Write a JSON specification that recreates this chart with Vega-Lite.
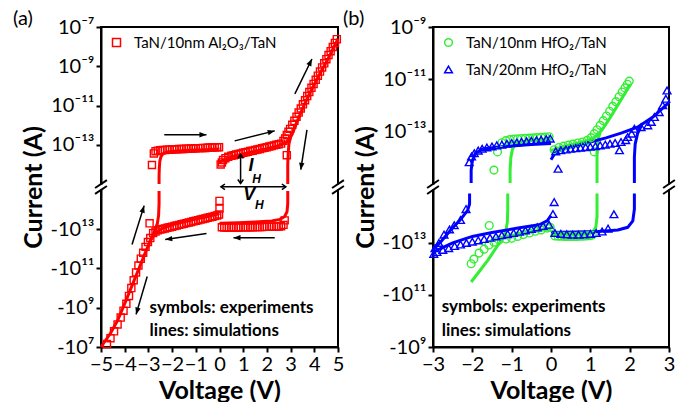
{
  "$schema": "https://vega.github.io/schema/vega-lite/v6.json",
  "background": "white",
  "padding": {"left": 12, "top": 8, "right": 2, "bottom": 2},
  "config": {
    "font": "Lato",
    "view": {"stroke": "black", "strokeWidth": 2},
    "axis": {"domainColor": "black", "domainWidth": 2, "tickColor": "black", "tickWidth": 2, "tickSize": 5, "labelFont": "Lato", "labelFontSize": 20, "labelColor": "black", "labelPadding": 2, "labelOverlap": false, "labelFlush": false, "labelBound": false, "titleFont": "Lato", "titleFontSize": 25, "titleFontWeight": "bold", "titleColor": "black", "grid": false},
    "axisY": {"titlePadding": 4},
    "axisX": {"titlePadding": 4},
    "legend": {"orient": "top-left", "offset": 8, "padding": 0, "labelFont": "Lato", "labelFontSize": 15, "labelColor": "black", "symbolStrokeWidth": 1.5, "symbolSize": 64, "rowPadding": 11, "labelOffset": 10},
    "title": {"font": "Lato", "fontSize": 20, "fontWeight": "normal", "color": "black", "anchor": "start", "frame": "group"}
  },
  "datasets": {
    "asim": [
      {"seg": "A1", "x": -2.55, "y": -2.0}, {"seg": "A1", "x": -2.55, "y": -1.6}, {"seg": "A1", "x": -2.54, "y": -1.2}, {"seg": "A1", "x": -2.52, "y": -0.85}, {"seg": "A1", "x": -2.47, "y": -0.6}, {"seg": "A1", "x": -2.38, "y": -0.45}, {"seg": "A1", "x": -2.2, "y": -0.37}, {"seg": "A1", "x": -1.8, "y": -0.32}, {"seg": "A1", "x": -1.2, "y": -0.28}, {"seg": "A1", "x": -0.6, "y": -0.25}, {"seg": "A1", "x": 0, "y": -0.22},
      {"seg": "A2", "x": 0, "y": -0.9}, {"seg": "A2", "x": 0.2, "y": -0.75}, {"seg": "A2", "x": 0.6, "y": -0.58}, {"seg": "A2", "x": 1.0, "y": -0.47}, {"seg": "A2", "x": 1.5, "y": -0.33}, {"seg": "A2", "x": 2.0, "y": -0.2}, {"seg": "A2", "x": 2.4, "y": -0.08}, {"seg": "A2", "x": 2.7, "y": 0.05}, {"seg": "A2", "x": 2.9, "y": 0.2}, {"seg": "A2", "x": 3.05, "y": 0.5}, {"seg": "A2", "x": 3.2, "y": 0.95}, {"seg": "A2", "x": 3.4, "y": 1.55}, {"seg": "A2", "x": 3.6, "y": 2.1}, {"seg": "A2", "x": 3.9, "y": 2.85}, {"seg": "A2", "x": 4.2, "y": 3.55}, {"seg": "A2", "x": 4.5, "y": 4.2}, {"seg": "A2", "x": 4.75, "y": 4.8}, {"seg": "A2", "x": 5.0, "y": 5.4},
      {"seg": "A3", "x": 3.0, "y": 0.38}, {"seg": "A3", "x": 2.93, "y": 0.05}, {"seg": "A3", "x": 2.9, "y": -0.4}, {"seg": "A3", "x": 2.88, "y": -1.0}, {"seg": "A3", "x": 2.88, "y": -2.0},
      {"seg": "A4", "x": 2.88, "y": -2.35}, {"seg": "A4", "x": 2.88, "y": -3.0}, {"seg": "A4", "x": 2.85, "y": -3.4}, {"seg": "A4", "x": 2.75, "y": -3.65}, {"seg": "A4", "x": 2.55, "y": -3.8}, {"seg": "A4", "x": 2.2, "y": -3.88}, {"seg": "A4", "x": 1.5, "y": -3.93}, {"seg": "A4", "x": 0.8, "y": -3.97}, {"seg": "A4", "x": 0, "y": -4.0},
      {"seg": "A5", "x": 0, "y": -3.5}, {"seg": "A5", "x": -0.5, "y": -3.65}, {"seg": "A5", "x": -1.0, "y": -3.78}, {"seg": "A5", "x": -1.5, "y": -3.92}, {"seg": "A5", "x": -2.0, "y": -4.08}, {"seg": "A5", "x": -2.4, "y": -4.25}, {"seg": "A5", "x": -2.7, "y": -4.5}, {"seg": "A5", "x": -2.9, "y": -4.85}, {"seg": "A5", "x": -3.1, "y": -5.4}, {"seg": "A5", "x": -3.4, "y": -6.3}, {"seg": "A5", "x": -3.7, "y": -7.2}, {"seg": "A5", "x": -4.0, "y": -8.1}, {"seg": "A5", "x": -4.3, "y": -8.95}, {"seg": "A5", "x": -4.6, "y": -9.6}, {"seg": "A5", "x": -5.0, "y": -10.3},
      {"seg": "A6", "x": -2.55, "y": -2.35}, {"seg": "A6", "x": -2.55, "y": -3.0}, {"seg": "A6", "x": -2.57, "y": -3.6}, {"seg": "A6", "x": -2.62, "y": -4.0}, {"seg": "A6", "x": -2.72, "y": -4.35}, {"seg": "A6", "x": -2.85, "y": -4.7}, {"seg": "A6", "x": -2.95, "y": -4.95}
    ],
    "aexp": [
      {"x": -4.75, "y": -10.15}, {"x": -4.6, "y": -9.85}, {"x": -4.45, "y": -9.5}, {"x": -4.3, "y": -9.15}, {"x": -4.17, "y": -8.8}, {"x": -4.05, "y": -8.45}, {"x": -3.93, "y": -8.1}, {"x": -3.82, "y": -7.7}, {"x": -3.72, "y": -7.3}, {"x": -3.62, "y": -6.9}, {"x": -3.52, "y": -6.5}, {"x": -3.42, "y": -6.15}, {"x": -3.32, "y": -5.8}, {"x": -3.22, "y": -5.5}, {"x": -3.12, "y": -5.2}, {"x": -3.02, "y": -4.95}, {"x": -2.92, "y": -4.75},
      {"x": -2.95, "y": -4.0},
      {"x": -2.8, "y": -4.5}, {"x": -2.7, "y": -4.42}, {"x": -2.6, "y": -4.35}, {"x": -2.5, "y": -4.32}, {"x": -2.4, "y": -4.29}, {"x": -2.3, "y": -4.26}, {"x": -2.2, "y": -4.23}, {"x": -2.1, "y": -4.2}, {"x": -2.0, "y": -4.17}, {"x": -1.9, "y": -4.14}, {"x": -1.8, "y": -4.11}, {"x": -1.7, "y": -4.08}, {"x": -1.6, "y": -4.05}, {"x": -1.5, "y": -4.02}, {"x": -1.4, "y": -3.99}, {"x": -1.3, "y": -3.96}, {"x": -1.2, "y": -3.93}, {"x": -1.1, "y": -3.9}, {"x": -1.0, "y": -3.87}, {"x": -0.9, "y": -3.84}, {"x": -0.8, "y": -3.81}, {"x": -0.7, "y": -3.78}, {"x": -0.6, "y": -3.75}, {"x": -0.5, "y": -3.72}, {"x": -0.4, "y": -3.69}, {"x": -0.3, "y": -3.66}, {"x": -0.2, "y": -3.63}, {"x": -0.1, "y": -3.6}, {"x": -0.02, "y": -3.55},
      {"x": -2.85, "y": -1.03}, {"x": -2.77, "y": -0.44}, {"x": -2.7, "y": -0.33}, {"x": -2.6, "y": -0.3}, {"x": -2.5, "y": -0.28}, {"x": -2.4, "y": -0.27}, {"x": -2.3, "y": -0.26}, {"x": -2.2, "y": -0.25}, {"x": -2.1, "y": -0.25}, {"x": -2.0, "y": -0.24}, {"x": -1.9, "y": -0.23}, {"x": -1.8, "y": -0.23}, {"x": -1.7, "y": -0.22}, {"x": -1.6, "y": -0.22}, {"x": -1.5, "y": -0.21}, {"x": -1.4, "y": -0.2}, {"x": -1.3, "y": -0.2}, {"x": -1.2, "y": -0.19}, {"x": -1.1, "y": -0.19}, {"x": -1.0, "y": -0.18}, {"x": -0.9, "y": -0.17}, {"x": -0.8, "y": -0.17}, {"x": -0.7, "y": -0.16}, {"x": -0.6, "y": -0.16}, {"x": -0.5, "y": -0.15}, {"x": -0.4, "y": -0.14}, {"x": -0.3, "y": -0.14}, {"x": -0.2, "y": -0.13}, {"x": -0.1, "y": -0.13}, {"x": -0.02, "y": -0.12},
      {"x": 0.05, "y": -1.0}, {"x": 0.1, "y": -0.9}, {"x": 0.15, "y": -0.78}, {"x": 0.25, "y": -0.68}, {"x": 0.37, "y": -0.61}, {"x": 0.5, "y": -0.56}, {"x": 0.6, "y": -0.53}, {"x": 0.7, "y": -0.5}, {"x": 0.8, "y": -0.47}, {"x": 0.9, "y": -0.44}, {"x": 1.0, "y": -0.41}, {"x": 1.1, "y": -0.38}, {"x": 1.2, "y": -0.35}, {"x": 1.3, "y": -0.32}, {"x": 1.4, "y": -0.3}, {"x": 1.5, "y": -0.27}, {"x": 1.6, "y": -0.24}, {"x": 1.7, "y": -0.21}, {"x": 1.8, "y": -0.18}, {"x": 1.9, "y": -0.15}, {"x": 2.0, "y": -0.12}, {"x": 2.1, "y": -0.09}, {"x": 2.2, "y": -0.06}, {"x": 2.3, "y": -0.03}, {"x": 2.4, "y": 0.0}, {"x": 2.5, "y": 0.03}, {"x": 2.6, "y": 0.06}, {"x": 2.7, "y": 0.2}, {"x": 2.77, "y": 0.32}, {"x": 2.84, "y": 0.5}, {"x": 2.91, "y": 0.66}, {"x": 2.98, "y": 0.81}, {"x": 3.07, "y": 1.02}, {"x": 3.16, "y": 1.22}, {"x": 3.25, "y": 1.43}, {"x": 3.34, "y": 1.64}, {"x": 3.43, "y": 1.85}, {"x": 3.52, "y": 2.06}, {"x": 3.61, "y": 2.27}, {"x": 3.7, "y": 2.48}, {"x": 3.79, "y": 2.69}, {"x": 3.88, "y": 2.9}, {"x": 3.97, "y": 3.1}, {"x": 4.06, "y": 3.31}, {"x": 4.15, "y": 3.52}, {"x": 4.24, "y": 3.73}, {"x": 4.33, "y": 3.94}, {"x": 4.42, "y": 4.15}, {"x": 4.51, "y": 4.36}, {"x": 4.6, "y": 4.57}, {"x": 4.69, "y": 4.77}, {"x": 4.78, "y": 4.98}, {"x": 4.87, "y": 5.19}, {"x": 4.95, "y": 5.38},
      {"x": 2.84, "y": -0.53},
      {"x": 2.75, "y": -3.85}, {"x": 2.7, "y": -4.08}, {"x": 2.6, "y": -4.15}, {"x": 2.5, "y": -4.16}, {"x": 2.4, "y": -4.16}, {"x": 2.3, "y": -4.17}, {"x": 2.2, "y": -4.17}, {"x": 2.1, "y": -4.18}, {"x": 2.0, "y": -4.18}, {"x": 1.9, "y": -4.18}, {"x": 1.8, "y": -4.19}, {"x": 1.7, "y": -4.19}, {"x": 1.6, "y": -4.19}, {"x": 1.5, "y": -4.19}, {"x": 1.4, "y": -4.2}, {"x": 1.3, "y": -4.2}, {"x": 1.2, "y": -4.2}, {"x": 1.1, "y": -4.2}, {"x": 1.0, "y": -4.2}, {"x": 0.9, "y": -4.2}, {"x": 0.8, "y": -4.21}, {"x": 0.7, "y": -4.21}, {"x": 0.6, "y": -4.21}, {"x": 0.5, "y": -4.21}, {"x": 0.4, "y": -4.21}, {"x": 0.3, "y": -4.21}, {"x": 0.2, "y": -4.21}, {"x": 0.1, "y": -4.2},
      {"x": 0.0, "y": -2.86}, {"x": 0.0, "y": -3.25}
    ],
    "aarr": [
      {"x": -2.33, "y": 0.51, "x2": -0.55, "y2": 0.51},
      {"x": 0.64, "y": 0.2, "x2": 2.33, "y2": 0.71},
      {"x": 3.69, "y": 0.76, "x2": 3.43, "y2": -1.27},
      {"x": 3.18, "y": 2.59, "x2": 3.9, "y2": 4.37},
      {"x": 2.33, "y": -4.73, "x2": 0.59, "y2": -4.73},
      {"x": -0.55, "y": -4.52, "x2": -2.29, "y2": -4.83},
      {"x": -3.69, "y": -5.08, "x2": -3.18, "y2": -3.1},
      {"x": -3.05, "y": -6.71, "x2": -3.52, "y2": -8.64},
      {"x": 0.89, "y": -0.49, "x2": 0.89, "y2": -1.97},
      {"x": 0.06, "y": -2.14, "x2": 2.8, "y2": -2.14}
    ],
    "ahead": [
      {"x": -0.55, "y": 0.51, "a": 90}, {"x": 2.33, "y": 0.71, "a": 76}, {"x": 3.43, "y": -1.27, "a": 188}, {"x": 3.9, "y": 4.37, "a": 26},
      {"x": 0.59, "y": -4.73, "a": 270}, {"x": -2.29, "y": -4.83, "a": 262}, {"x": -3.18, "y": -3.1, "a": 17}, {"x": -3.52, "y": -8.64, "a": 196}
    ],
    "achev": [
      {"x": 0.89, "y": -0.49, "a": 0}, {"x": 0.89, "y": -1.97, "a": 180}, {"x": 0.06, "y": -2.14, "a": 270}, {"x": 2.8, "y": -2.14, "a": 90}
    ],
    "abig": [{"x": 1.33, "y": -1.1, "t": "I"}, {"x": 1.25, "y": -2.58, "t": "V"}],
    "asub": [{"x": 1.56, "y": -1.76, "t": "H"}, {"x": 1.68, "y": -3.08, "t": "H"}],
    "anote": [{"x": -2.95, "y": -8.58, "t": "symbols: experiments"}, {"x": -2.95, "y": -9.76, "t": "lines: simulations"}],
    "abrk": [
      {"x": -5.25, "y": -2.2, "x2": -4.75, "y2": -1.8}, {"x": -5.25, "y": -2.5, "x2": -4.75, "y2": -2.1},
      {"x": 4.75, "y": -2.2, "x2": 5.25, "y2": -1.8}, {"x": 4.75, "y": -2.5, "x2": 5.25, "y2": -2.1}
    ],
    "acov": [{"x": -5.12, "y": -2.27, "x2": -4.88, "y2": -2.03}, {"x": 4.88, "y": -2.27, "x2": 5.12, "y2": -2.03}],
    "bsim": [
      {"m": "10nm", "seg": "G1", "x": -1.04, "y": -2.0}, {"m": "10nm", "seg": "G1", "x": -1.04, "y": -1.5}, {"m": "10nm", "seg": "G1", "x": -1.02, "y": -1.0}, {"m": "10nm", "seg": "G1", "x": -0.98, "y": -0.7}, {"m": "10nm", "seg": "G1", "x": -0.9, "y": -0.5}, {"m": "10nm", "seg": "G1", "x": -0.7, "y": -0.4}, {"m": "10nm", "seg": "G1", "x": -0.3, "y": -0.33}, {"m": "10nm", "seg": "G1", "x": 0, "y": -0.3},
      {"m": "10nm", "seg": "G2", "x": 0, "y": -0.75}, {"m": "10nm", "seg": "G2", "x": 0.3, "y": -0.6}, {"m": "10nm", "seg": "G2", "x": 0.6, "y": -0.5}, {"m": "10nm", "seg": "G2", "x": 0.9, "y": -0.38}, {"m": "10nm", "seg": "G2", "x": 1.1, "y": -0.25}, {"m": "10nm", "seg": "G2", "x": 1.3, "y": 0.05}, {"m": "10nm", "seg": "G2", "x": 1.5, "y": 0.5}, {"m": "10nm", "seg": "G2", "x": 1.7, "y": 1.0}, {"m": "10nm", "seg": "G2", "x": 1.9, "y": 1.5}, {"m": "10nm", "seg": "G2", "x": 2.0, "y": 1.8},
      {"m": "10nm", "seg": "G3", "x": 1.25, "y": -0.05}, {"m": "10nm", "seg": "G3", "x": 1.19, "y": -0.35}, {"m": "10nm", "seg": "G3", "x": 1.17, "y": -0.8}, {"m": "10nm", "seg": "G3", "x": 1.17, "y": -2.0},
      {"m": "10nm", "seg": "G4", "x": 1.17, "y": -2.4}, {"m": "10nm", "seg": "G4", "x": 1.17, "y": -3.3}, {"m": "10nm", "seg": "G4", "x": 1.14, "y": -3.7}, {"m": "10nm", "seg": "G4", "x": 1.05, "y": -3.9}, {"m": "10nm", "seg": "G4", "x": 0.8, "y": -3.96}, {"m": "10nm", "seg": "G4", "x": 0.4, "y": -3.98}, {"m": "10nm", "seg": "G4", "x": 0, "y": -4.0},
      {"m": "10nm", "seg": "G5", "x": -1.1, "y": -2.4}, {"m": "10nm", "seg": "G5", "x": -1.1, "y": -3.0}, {"m": "10nm", "seg": "G5", "x": -1.11, "y": -3.5}, {"m": "10nm", "seg": "G5", "x": -1.15, "y": -3.85}, {"m": "10nm", "seg": "G5", "x": -1.22, "y": -4.1}, {"m": "10nm", "seg": "G5", "x": -1.4, "y": -4.5}, {"m": "10nm", "seg": "G5", "x": -1.6, "y": -4.95}, {"m": "10nm", "seg": "G5", "x": -1.8, "y": -5.35}, {"m": "10nm", "seg": "G5", "x": -2.03, "y": -5.8},
      {"m": "10nm", "seg": "G6", "x": 0, "y": -3.75}, {"m": "10nm", "seg": "G6", "x": -0.3, "y": -3.82}, {"m": "10nm", "seg": "G6", "x": -0.6, "y": -3.9}, {"m": "10nm", "seg": "G6", "x": -0.9, "y": -3.98}, {"m": "10nm", "seg": "G6", "x": -1.15, "y": -4.05},
      {"m": "20nm", "seg": "B1", "x": -2.03, "y": -2.0}, {"m": "20nm", "seg": "B1", "x": -2.03, "y": -1.5}, {"m": "20nm", "seg": "B1", "x": -2.0, "y": -1.15}, {"m": "20nm", "seg": "B1", "x": -1.92, "y": -0.85}, {"m": "20nm", "seg": "B1", "x": -1.75, "y": -0.7}, {"m": "20nm", "seg": "B1", "x": -1.4, "y": -0.62}, {"m": "20nm", "seg": "B1", "x": -1.0, "y": -0.57}, {"m": "20nm", "seg": "B1", "x": -0.5, "y": -0.52}, {"m": "20nm", "seg": "B1", "x": 0, "y": -0.48},
      {"m": "20nm", "seg": "B2", "x": 0, "y": -1.1}, {"m": "20nm", "seg": "B2", "x": 0.1, "y": -0.85}, {"m": "20nm", "seg": "B2", "x": 0.3, "y": -0.7}, {"m": "20nm", "seg": "B2", "x": 0.6, "y": -0.56}, {"m": "20nm", "seg": "B2", "x": 1.0, "y": -0.42}, {"m": "20nm", "seg": "B2", "x": 1.4, "y": -0.26}, {"m": "20nm", "seg": "B2", "x": 1.8, "y": -0.07}, {"m": "20nm", "seg": "B2", "x": 2.2, "y": 0.15}, {"m": "20nm", "seg": "B2", "x": 2.6, "y": 0.55}, {"m": "20nm", "seg": "B2", "x": 3.0, "y": 1.1},
      {"m": "20nm", "seg": "B3", "x": 2.3, "y": 0.22}, {"m": "20nm", "seg": "B3", "x": 2.2, "y": -0.1}, {"m": "20nm", "seg": "B3", "x": 2.14, "y": -0.5}, {"m": "20nm", "seg": "B3", "x": 2.12, "y": -1.0}, {"m": "20nm", "seg": "B3", "x": 2.12, "y": -2.0},
      {"m": "20nm", "seg": "B4", "x": 2.12, "y": -2.4}, {"m": "20nm", "seg": "B4", "x": 2.12, "y": -3.0}, {"m": "20nm", "seg": "B4", "x": 2.08, "y": -3.45}, {"m": "20nm", "seg": "B4", "x": 1.95, "y": -3.7}, {"m": "20nm", "seg": "B4", "x": 1.7, "y": -3.8}, {"m": "20nm", "seg": "B4", "x": 1.2, "y": -3.86}, {"m": "20nm", "seg": "B4", "x": 0.6, "y": -3.88}, {"m": "20nm", "seg": "B4", "x": 0, "y": -3.9},
      {"m": "20nm", "seg": "B5", "x": -2.07, "y": -2.4}, {"m": "20nm", "seg": "B5", "x": -2.07, "y": -2.8}, {"m": "20nm", "seg": "B5", "x": -2.12, "y": -3.05}, {"m": "20nm", "seg": "B5", "x": -2.3, "y": -3.4}, {"m": "20nm", "seg": "B5", "x": -2.55, "y": -3.8}, {"m": "20nm", "seg": "B5", "x": -2.8, "y": -4.25}, {"m": "20nm", "seg": "B5", "x": -3.0, "y": -4.55},
      {"m": "20nm", "seg": "B6", "x": 0, "y": -3.25}, {"m": "20nm", "seg": "B6", "x": -0.1, "y": -3.45}, {"m": "20nm", "seg": "B6", "x": -0.3, "y": -3.6}, {"m": "20nm", "seg": "B6", "x": -0.8, "y": -3.72}, {"m": "20nm", "seg": "B6", "x": -1.5, "y": -3.9}, {"m": "20nm", "seg": "B6", "x": -2.0, "y": -4.05}, {"m": "20nm", "seg": "B6", "x": -2.5, "y": -4.3}, {"m": "20nm", "seg": "B6", "x": -3.0, "y": -4.65}
    ],
    "bexp": [
      {"s": "10nm", "x": -1.45, "y": -1.5}, {"s": "10nm", "x": -1.36, "y": -0.8}, {"s": "10nm", "x": -1.25, "y": -0.45}, {"s": "10nm", "x": -1.15, "y": -0.37}, {"s": "10nm", "x": -1.05, "y": -0.33}, {"s": "10nm", "x": -0.95, "y": -0.31}, {"s": "10nm", "x": -0.85, "y": -0.3}, {"s": "10nm", "x": -0.75, "y": -0.29}, {"s": "10nm", "x": -0.65, "y": -0.28}, {"s": "10nm", "x": -0.55, "y": -0.27}, {"s": "10nm", "x": -0.45, "y": -0.26}, {"s": "10nm", "x": -0.35, "y": -0.25}, {"s": "10nm", "x": -0.25, "y": -0.24}, {"s": "10nm", "x": -0.15, "y": -0.23}, {"s": "10nm", "x": -0.05, "y": -0.22},
      {"s": "10nm", "x": 0.08, "y": -0.72}, {"s": "10nm", "x": 0.2, "y": -0.63}, {"s": "10nm", "x": 0.32, "y": -0.58}, {"s": "10nm", "x": 0.44, "y": -0.54}, {"s": "10nm", "x": 0.56, "y": -0.5}, {"s": "10nm", "x": 0.68, "y": -0.46}, {"s": "10nm", "x": 0.8, "y": -0.42}, {"s": "10nm", "x": 0.92, "y": -0.36}, {"s": "10nm", "x": 1.02, "y": -0.25}, {"s": "10nm", "x": 1.1, "y": -0.1}, {"s": "10nm", "x": 1.17, "y": 0.05}, {"s": "10nm", "x": 1.25, "y": 0.22}, {"s": "10nm", "x": 1.33, "y": 0.4}, {"s": "10nm", "x": 1.41, "y": 0.58}, {"s": "10nm", "x": 1.49, "y": 0.76}, {"s": "10nm", "x": 1.57, "y": 0.95}, {"s": "10nm", "x": 1.65, "y": 1.13}, {"s": "10nm", "x": 1.73, "y": 1.32}, {"s": "10nm", "x": 1.81, "y": 1.5}, {"s": "10nm", "x": 1.88, "y": 1.66}, {"s": "10nm", "x": 1.94, "y": 1.8}, {"s": "10nm", "x": 1.99, "y": 1.92}, {"s": "10nm", "x": 1.1, "y": -0.8},
      {"s": "10nm", "x": 0.1, "y": -4.03}, {"s": "10nm", "x": 0.18, "y": -4.04}, {"s": "10nm", "x": 0.26, "y": -4.04}, {"s": "10nm", "x": 0.34, "y": -4.05}, {"s": "10nm", "x": 0.42, "y": -4.05}, {"s": "10nm", "x": 0.5, "y": -4.05}, {"s": "10nm", "x": 0.58, "y": -4.05}, {"s": "10nm", "x": 0.66, "y": -4.05}, {"s": "10nm", "x": 0.74, "y": -4.04}, {"s": "10nm", "x": 0.82, "y": -4.04}, {"s": "10nm", "x": 0.9, "y": -4.03}, {"s": "10nm", "x": 0.98, "y": -4.02}, {"s": "10nm", "x": 1.05, "y": -4.0},
      {"s": "10nm", "x": -0.02, "y": -3.7}, {"s": "10nm", "x": -0.1, "y": -3.73}, {"s": "10nm", "x": -0.25, "y": -3.8}, {"s": "10nm", "x": -0.4, "y": -3.85}, {"s": "10nm", "x": -0.55, "y": -3.92}, {"s": "10nm", "x": -0.7, "y": -3.98}, {"s": "10nm", "x": -0.85, "y": -4.05}, {"s": "10nm", "x": -1.0, "y": -4.12}, {"s": "10nm", "x": -1.14, "y": -4.15}, {"s": "10nm", "x": -1.32, "y": -4.19}, {"s": "10nm", "x": -1.45, "y": -4.27}, {"s": "10nm", "x": -1.58, "y": -4.38}, {"s": "10nm", "x": -1.7, "y": -4.54}, {"s": "10nm", "x": -1.83, "y": -4.69}, {"s": "10nm", "x": -1.96, "y": -4.92}, {"s": "10nm", "x": -2.03, "y": -5.1}, {"s": "10nm", "x": -1.57, "y": -3.63},
      {"s": "20nm", "x": -2.08, "y": -1.2}, {"s": "20nm", "x": -2.02, "y": -0.98}, {"s": "20nm", "x": -1.95, "y": -0.85}, {"s": "20nm", "x": -1.85, "y": -0.75}, {"s": "20nm", "x": -1.75, "y": -0.68}, {"s": "20nm", "x": -1.63, "y": -0.63}, {"s": "20nm", "x": -1.5, "y": -0.59}, {"s": "20nm", "x": -1.38, "y": -0.55}, {"s": "20nm", "x": -1.25, "y": -0.52}, {"s": "20nm", "x": -1.12, "y": -0.49}, {"s": "20nm", "x": -1.0, "y": -0.46}, {"s": "20nm", "x": -0.87, "y": -0.44}, {"s": "20nm", "x": -0.75, "y": -0.41}, {"s": "20nm", "x": -0.62, "y": -0.39}, {"s": "20nm", "x": -0.5, "y": -0.37}, {"s": "20nm", "x": -0.37, "y": -0.35}, {"s": "20nm", "x": -0.25, "y": -0.33}, {"s": "20nm", "x": -0.12, "y": -0.31}, {"s": "20nm", "x": -0.02, "y": -0.29},
      {"s": "20nm", "x": 0.18, "y": -1.45}, {"s": "20nm", "x": 0.12, "y": -0.78}, {"s": "20nm", "x": 0.25, "y": -0.74}, {"s": "20nm", "x": 0.38, "y": -0.71}, {"s": "20nm", "x": 0.5, "y": -0.68}, {"s": "20nm", "x": 0.63, "y": -0.66}, {"s": "20nm", "x": 0.75, "y": -0.64}, {"s": "20nm", "x": 0.88, "y": -0.62}, {"s": "20nm", "x": 1.0, "y": -0.6}, {"s": "20nm", "x": 1.13, "y": -0.58}, {"s": "20nm", "x": 1.25, "y": -0.55}, {"s": "20nm", "x": 1.38, "y": -0.52}, {"s": "20nm", "x": 1.5, "y": -0.49}, {"s": "20nm", "x": 1.63, "y": -0.46}, {"s": "20nm", "x": 1.74, "y": -0.74}, {"s": "20nm", "x": 1.78, "y": -0.42}, {"s": "20nm", "x": 1.9, "y": -0.35}, {"s": "20nm", "x": 1.95, "y": -0.23}, {"s": "20nm", "x": 2.05, "y": -0.1}, {"s": "20nm", "x": 2.12, "y": 0.09}, {"s": "20nm", "x": 2.29, "y": 0.15}, {"s": "20nm", "x": 2.46, "y": 0.22}, {"s": "20nm", "x": 2.55, "y": 0.35}, {"s": "20nm", "x": 2.63, "y": 0.54}, {"s": "20nm", "x": 2.75, "y": 0.73}, {"s": "20nm", "x": 2.84, "y": 0.99}, {"s": "20nm", "x": 2.92, "y": 1.24}, {"s": "20nm", "x": 2.95, "y": 1.56},
      {"s": "20nm", "x": -0.05, "y": -3.6}, {"s": "20nm", "x": -0.2, "y": -3.65}, {"s": "20nm", "x": -0.35, "y": -3.7}, {"s": "20nm", "x": -0.5, "y": -3.76}, {"s": "20nm", "x": -0.65, "y": -3.82}, {"s": "20nm", "x": -0.8, "y": -3.87}, {"s": "20nm", "x": -0.95, "y": -3.92}, {"s": "20nm", "x": -1.1, "y": -3.96}, {"s": "20nm", "x": -1.25, "y": -4.0}, {"s": "20nm", "x": -1.4, "y": -4.05}, {"s": "20nm", "x": -1.55, "y": -4.1}, {"s": "20nm", "x": -1.7, "y": -4.15}, {"s": "20nm", "x": -1.85, "y": -4.2}, {"s": "20nm", "x": -2.0, "y": -4.25}, {"s": "20nm", "x": -2.15, "y": -4.3}, {"s": "20nm", "x": -2.3, "y": -4.36}, {"s": "20nm", "x": -2.45, "y": -4.42}, {"s": "20nm", "x": -2.6, "y": -4.5}, {"s": "20nm", "x": -2.75, "y": -4.57}, {"s": "20nm", "x": -2.9, "y": -4.65}, {"s": "20nm", "x": -2.98, "y": -4.72},
      {"s": "20nm", "x": -2.95, "y": -4.5}, {"s": "20nm", "x": -2.85, "y": -4.3}, {"s": "20nm", "x": -2.72, "y": -3.98}, {"s": "20nm", "x": -2.58, "y": -3.78}, {"s": "20nm", "x": -2.46, "y": -3.62}, {"s": "20nm", "x": -2.3, "y": -3.42}, {"s": "20nm", "x": -2.16, "y": -3.0},
      {"s": "20nm", "x": 0.05, "y": -3.19}, {"s": "20nm", "x": 0.08, "y": -2.73}, {"s": "20nm", "x": 0.1, "y": -3.92}, {"s": "20nm", "x": 0.25, "y": -3.95}, {"s": "20nm", "x": 0.4, "y": -3.97}, {"s": "20nm", "x": 0.55, "y": -3.98}, {"s": "20nm", "x": 0.7, "y": -3.98}, {"s": "20nm", "x": 0.85, "y": -3.97}, {"s": "20nm", "x": 1.0, "y": -3.95}, {"s": "20nm", "x": 1.15, "y": -3.92}, {"s": "20nm", "x": 1.3, "y": -3.86}, {"s": "20nm", "x": 1.45, "y": -3.75}, {"s": "20nm", "x": 1.6, "y": -3.2}
    ],
    "bnote": [{"x": -2.78, "y": -6.96, "t": "symbols: experiments"}, {"x": -2.78, "y": -7.88, "t": "lines: simulations"}],
    "bbrk": [
      {"x": -3.15, "y": -2.19, "x2": -2.85, "y2": -1.88}, {"x": -3.15, "y": -2.42, "x2": -2.85, "y2": -2.11},
      {"x": 2.85, "y": -2.19, "x2": 3.15, "y2": -1.88}, {"x": 2.85, "y": -2.42, "x2": 3.15, "y2": -2.11}
    ],
    "bcov": [{"x": -3.07, "y": -2.24, "x2": -2.93, "y2": -2.06}, {"x": 2.93, "y": -2.24, "x2": 3.07, "y2": -2.06}]
  },
  "spacing": 95,
  "bounds": "flush",
  "resolve": {"scale": {"color": "independent", "shape": "independent"}},
  "hconcat": [
    {
      "width": 237,
      "height": 320,
      "title": {"text": "(a)", "dx": -88, "offset": -12},
      "encoding": {
        "x": {"field": "x", "type": "quantitative", "scale": {"domain": [-5, 5], "nice": false, "zero": false}, "axis": {"values": [-5, -4, -3, -2, -1, 0, 1, 2, 3, 4, 5], "format": "d", "title": "Voltage (V)"}},
        "y": {"field": "y", "type": "quantitative", "scale": {"domain": [-10.3, 6], "nice": false, "zero": false}, "axis": {"values": [6, 4, 2, 0, -4.3, -6.3, -8.3, -10.3], "labelExpr": "datum.value > 5 ? '10⁻⁷' : datum.value > 3 ? '10⁻⁹' : datum.value > 1 ? '10⁻¹¹' : datum.value > -1 ? '10⁻¹³' : datum.value > -5 ? '-10¹³' : datum.value > -7 ? '-10¹¹' : datum.value > -9 ? '-10⁹' : '-10⁷'", "title": "Current (A)"}}
      },
      "layer": [
        {"data": {"name": "asim"}, "mark": {"type": "line", "color": "#ff0000", "strokeWidth": 3}, "encoding": {"detail": {"field": "seg"}, "order": {"value": null}}},
        {"data": {"name": "aexp"}, "mark": {"type": "point", "filled": false, "strokeWidth": 1.4, "size": 50, "opacity": 1}, "encoding": {
          "color": {"datum": "TaN/10nm Al₂O₃/TaN", "type": "nominal", "scale": {"domain": ["TaN/10nm Al₂O₃/TaN"], "range": ["#ff0000"]}, "legend": {"title": null}},
          "shape": {"datum": "TaN/10nm Al₂O₃/TaN", "type": "nominal", "scale": {"domain": ["TaN/10nm Al₂O₃/TaN"], "range": ["square"]}, "legend": {"title": null}}}},
        {"data": {"name": "acov"}, "mark": {"type": "rect", "color": "white"}, "encoding": {"x2": {"field": "x2"}, "y2": {"field": "y2"}}},
        {"data": {"name": "abrk"}, "mark": {"type": "rule", "color": "black", "strokeWidth": 2}, "encoding": {"x2": {"field": "x2"}, "y2": {"field": "y2"}}},
        {"data": {"name": "aarr"}, "mark": {"type": "rule", "color": "black", "strokeWidth": 1.5}, "encoding": {"x2": {"field": "x2"}, "y2": {"field": "y2"}}},
        {"data": {"name": "ahead"}, "mark": {"type": "point", "shape": "M0,0L-0.55,1.4L0.55,1.4Z", "filled": true, "color": "black", "size": 100, "opacity": 1, "strokeWidth": 0}, "encoding": {"angle": {"field": "a", "type": "quantitative", "scale": null}}},
        {"data": {"name": "achev"}, "mark": {"type": "point", "shape": "M-0.7,1L0,0L0.7,1", "filled": false, "color": "black", "size": 64, "opacity": 1, "strokeWidth": 1.5}, "encoding": {"angle": {"field": "a", "type": "quantitative", "scale": null}}},
        {"data": {"name": "abig"}, "mark": {"type": "text", "font": "Liberation Sans", "fontSize": 18, "fontWeight": "bold", "fontStyle": "italic", "color": "black", "align": "center", "baseline": "middle"}, "encoding": {"text": {"field": "t"}}},
        {"data": {"name": "asub"}, "mark": {"type": "text", "font": "Liberation Sans", "fontSize": 12, "fontWeight": "bold", "fontStyle": "italic", "color": "black", "align": "center", "baseline": "middle"}, "encoding": {"text": {"field": "t"}}},
        {"data": {"name": "anote"}, "mark": {"type": "text", "font": "Lato", "fontSize": 17, "fontWeight": "bold", "color": "black", "align": "left", "baseline": "alphabetic"}, "encoding": {"text": {"field": "t"}}}
      ]
    },
    {
      "width": 236,
      "height": 320,
      "title": {"text": "(b)", "dx": -90, "offset": -12},
      "encoding": {
        "x": {"field": "x", "type": "quantitative", "scale": {"domain": [-3, 3], "nice": false, "zero": false}, "axis": {"values": [-3, -2, -1, 0, 1, 2, 3], "format": "d", "title": "Voltage (V)"}},
        "y": {"field": "y", "type": "quantitative", "scale": {"domain": [-8.3, 4], "nice": false, "zero": false}, "axis": {"values": [4, 2, 0, -4.3, -6.3, -8.3], "labelExpr": "datum.value > 3 ? '10⁻⁹' : datum.value > 1 ? '10⁻¹¹' : datum.value > -1 ? '10⁻¹³' : datum.value > -5 ? '-10¹³' : datum.value > -7 ? '-10¹¹' : '-10⁹'", "title": "Current (A)"}}
      },
      "layer": [
        {"data": {"name": "bsim"}, "transform": [{"filter": "datum.m == '10nm'"}], "mark": {"type": "line", "strokeWidth": 3, "color": "#33ee33"}, "encoding": {"detail": {"field": "seg"}, "order": {"value": null}}},
        {"data": {"name": "bsim"}, "transform": [{"filter": "datum.m == '20nm'"}], "mark": {"type": "line", "strokeWidth": 3, "color": "#0000ff"}, "encoding": {"detail": {"field": "seg"}, "order": {"value": null}}},
        {"data": {"name": "bexp"}, "mark": {"type": "point", "filled": false, "strokeWidth": 1.4, "size": 60, "opacity": 1}, "encoding": {
          "color": {"field": "s", "type": "nominal", "scale": {"domain": ["10nm", "20nm"], "range": ["#33ee33", "#0000ff"]}, "legend": {"title": null, "symbolSize": 60, "labelExpr": "datum.label == '10nm' ? 'TaN/10nm HfO₂/TaN' : 'TaN/20nm HfO₂/TaN'"}},
          "shape": {"field": "s", "type": "nominal", "scale": {"domain": ["10nm", "20nm"], "range": ["circle", "triangle-up"]}, "legend": {"title": null, "symbolSize": 60, "labelExpr": "datum.label == '10nm' ? 'TaN/10nm HfO₂/TaN' : 'TaN/20nm HfO₂/TaN'"}}}},
        {"data": {"name": "bcov"}, "mark": {"type": "rect", "color": "white"}, "encoding": {"x2": {"field": "x2"}, "y2": {"field": "y2"}}},
        {"data": {"name": "bbrk"}, "mark": {"type": "rule", "color": "black", "strokeWidth": 2}, "encoding": {"x2": {"field": "x2"}, "y2": {"field": "y2"}}},
        {"data": {"name": "bnote"}, "mark": {"type": "text", "font": "Lato", "fontSize": 17, "fontWeight": "bold", "color": "black", "align": "left", "baseline": "alphabetic"}, "encoding": {"text": {"field": "t"}}}
      ]
    }
  ]
}
